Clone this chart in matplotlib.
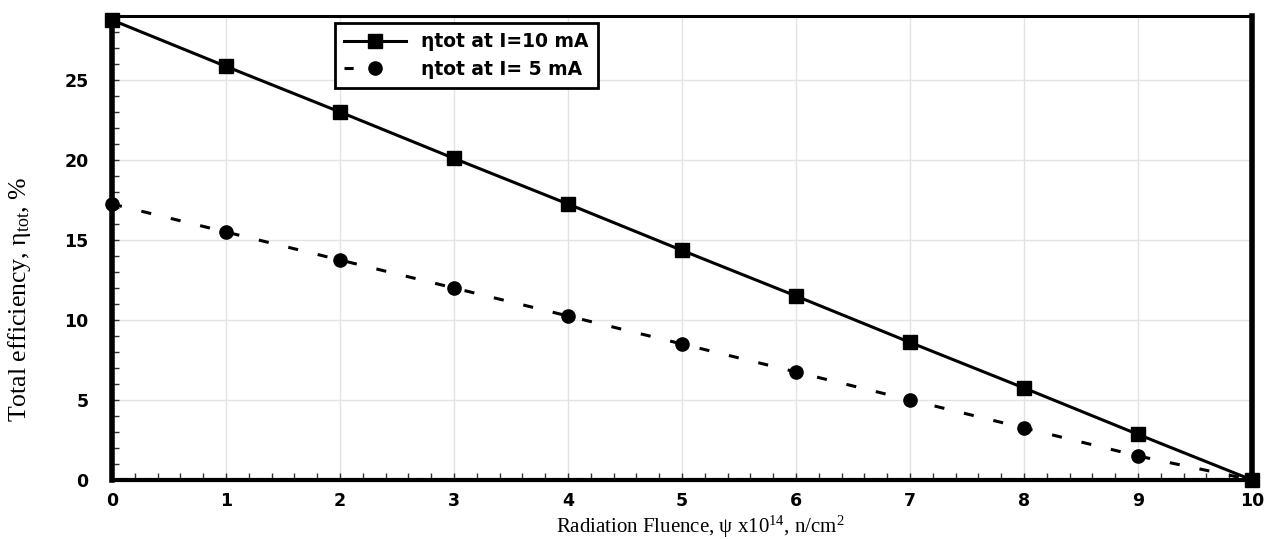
import numpy as np
import matplotlib
matplotlib.use("Agg")
import matplotlib.pyplot as plt
from matplotlib.lines import Line2D
from matplotlib.ticker import MultipleLocator

plt.rcParams['font.family'] = ['DejaVu Sans']
plt.rcParams['mathtext.fontset'] = 'custom'
plt.rcParams['mathtext.rm'] = 'Liberation Serif'
plt.rcParams['mathtext.it'] = 'Liberation Serif:italic'

# data
fluence = [0, 1, 2, 3, 4, 5, 6, 7, 8, 9, 10]
eta_10mA = [28.75, 25.85, 23.0, 20.1, 17.25, 14.35, 11.5, 8.6, 5.75, 2.85, 0.0]
eta_5mA = [17.25, 15.5, 13.75, 12.0, 10.25, 8.5, 6.75, 5.0, 3.25, 1.5, 0.0]
x_ticks = list(range(0, 11))
y_ticks = [0, 5, 10, 15, 20, 25]
labels = ['ηtot at I=10 mA', 'ηtot at I= 5 mA']

fig = plt.figure(figsize=(12.67, 5.39), dpi=100)
ax = fig.add_axes([0.0884, 0.1095, 0.8998, 0.8608])

l10, = ax.plot(fluence, eta_10mA, color='black', lw=2.2, marker='s', ms=10.5,
               clip_on=False, zorder=4)
ax.plot(fluence, eta_5mA, color='black', lw=2.2, ls=(0, (3.3, 6.6)), marker='o', ms=9.5,
        clip_on=False, zorder=3)

ax.set_xlim(0, 10)
ax.set_ylim(0, 29)
ax.set_xticks(x_ticks)
ax.set_yticks(y_ticks)
ax.xaxis.set_minor_locator(MultipleLocator(0.2))
ax.yaxis.set_minor_locator(MultipleLocator(1))
ax.tick_params(which='both', direction='in', length=5, width=1, color='#333333')
ax.tick_params(which='major', labelsize=12.5)
ax.tick_params(axis='x', which='major', pad=9)
ax.tick_params(axis='y', which='major', pad=17)
for lab in ax.get_xticklabels() + ax.get_yticklabels():
    lab.set_fontweight('bold')

ax.grid(True, which='major', color='#e3e3e3', lw=1)
ax.set_axisbelow(True)

ax.spines['left'].set_linewidth(4)
ax.spines['bottom'].set_linewidth(3)
ax.spines['right'].set_linewidth(4)
ax.spines['top'].set_linewidth(2.2)

# legend key for the dashed series: short dash + dot, like the original
h5 = Line2D([], [], color='black', lw=2.2, ls=(0, (3, 30)), marker='o', ms=9.5)
leg = ax.legend([l10, h5], labels, loc='upper left', bbox_to_anchor=(0.1956, 0.985),
                borderaxespad=0, fancybox=False, framealpha=1, edgecolor='black',
                prop={'weight': 'bold', 'size': 13.5},
                handlelength=3.3, handletextpad=0.8, borderpad=0.5, labelspacing=0.45)
leg.get_frame().set_linewidth(2)

fig.text(0.553, 0.022, r'Radiation Fluence, ψ x10$^{14}$, n/cm$^{2}$',
         ha='center', va='center', fontsize=15, family='Liberation Serif')
fig.text(0.015, 0.445, r'Total efficiency, η$_{\mathrm{tot}}$, %', rotation=90,
         ha='center', va='center', fontsize=18.5, family='Liberation Serif')

fig.savefig('out.png', dpi=100)
